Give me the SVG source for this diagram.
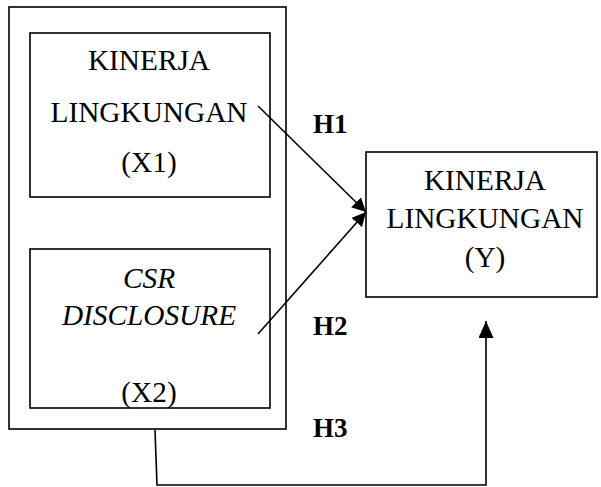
<svg xmlns="http://www.w3.org/2000/svg" width="601" height="487" viewBox="0 0 601 487">
<style>
.box{fill:none;stroke:#000;stroke-width:1.6}
.t{font-family:"Liberation Serif","Times New Roman",serif;font-size:29.3px;fill:#000;text-anchor:middle}
.i{font-style:italic}
.h{font-family:"Liberation Serif","Times New Roman",serif;font-size:27px;font-weight:bold;fill:#000}
.c{fill:none;stroke:#000;stroke-width:1.6}
</style>
<defs>
<marker id="ah" viewBox="0 0 10 10" refX="10" refY="5" markerWidth="14" markerHeight="14" markerUnits="userSpaceOnUse" orient="auto">
<path d="M0,0 L10,5 L0,10 z" fill="#000"/>
</marker>
<marker id="ah2" viewBox="0 0 10 10" refX="10" refY="5" markerWidth="17" markerHeight="15" markerUnits="userSpaceOnUse" orient="auto" preserveAspectRatio="none">
<path d="M0,0 L10,5 L0,10 z" fill="#000"/>
</marker>
</defs>
<g id="outer">
<rect class="box" x="9" y="7" width="277" height="422"/>
</g>
<g id="x1">
<rect class="box" x="30" y="33" width="240" height="164"/>
<text class="t" x="149" y="70">KINERJA</text>
<text class="t" x="149" y="122">LINGKUNGAN</text>
<text class="t" x="149" y="172">(X1)</text>
</g>
<g id="x2">
<rect class="box" x="30" y="249" width="240" height="159"/>
<text class="t i" x="149" y="288">CSR</text>
<text class="t i" x="149" y="325">DISCLOSURE</text>
<text class="t" x="149" y="402">(X2)</text>
</g>
<g id="y">
<rect class="box" x="366" y="152" width="231" height="145"/>
<text class="t" x="485" y="190">KINERJA</text>
<text class="t" x="485" y="228">LINGKUNGAN</text>
<text class="t" x="485" y="267">(Y)</text>
</g>
<g id="labels">
<text class="h" x="313" y="133">H1</text>
<text class="h" x="313" y="335">H2</text>
<text class="h" x="313" y="437">H3</text>
</g>
<g id="connectors">
<line class="c" x1="258" y1="106" x2="366" y2="212" marker-end="url(#ah)"/>
<line class="c" x1="258" y1="334" x2="366" y2="212" marker-end="url(#ah)"/>
<polyline class="c" points="155,430 157,485 486,485 486,321" marker-end="url(#ah2)"/>
</g>
</svg>
